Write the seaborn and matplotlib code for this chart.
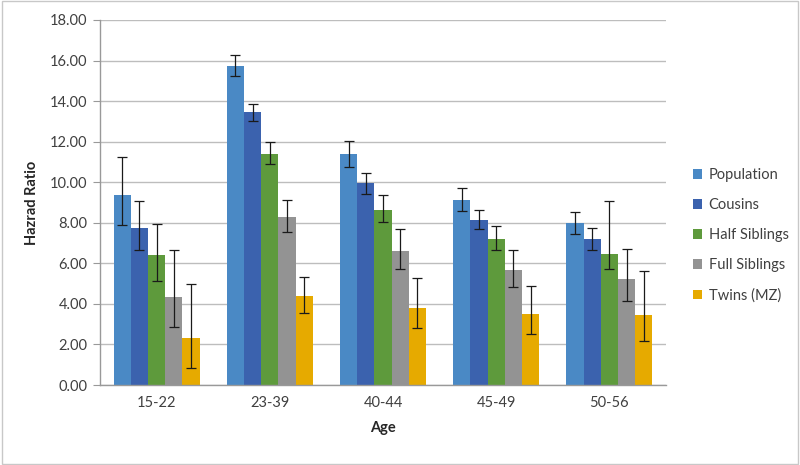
import numpy as np
import pandas as pd
import matplotlib
matplotlib.use("Agg")
import matplotlib.pyplot as plt
import seaborn as sns
from matplotlib.ticker import FixedLocator, FormatStrFormatter

ages = ["15-22", "23-39", "40-44", "45-49", "50-56"]
groups = ["Population", "Cousins", "Half Siblings", "Full Siblings", "Twins (MZ)"]

# hazard ratio per group, one value per age band
population = [9.37, 15.75, 11.37, 9.14, 7.97]
cousins = [7.76, 13.44, 9.96, 8.12, 7.20]
half_sibs = [6.39, 11.41, 8.65, 7.20, 6.48]
full_sibs = [4.36, 8.28, 6.62, 5.65, 5.24]
twins = [2.30, 4.37, 3.81, 3.52, 3.47]

# confidence interval bounds
population_lo = [7.87, 15.24, 10.75, 8.60, 7.46]
population_hi = [11.23, 16.29, 12.05, 9.73, 8.53]
cousins_lo = [6.67, 13.02, 9.42, 7.68, 6.66]
cousins_hi = [9.06, 13.87, 10.47, 8.61, 7.76]
half_lo = [5.14, 10.90, 8.02, 6.66, 5.72]
half_hi = [7.92, 12.00, 9.37, 7.83, 9.06]
full_lo = [2.84, 7.54, 5.72, 4.83, 4.14]
full_hi = [6.67, 9.12, 7.71, 6.67, 6.70]
twins_lo = [0.82, 3.57, 2.81, 2.53, 2.17]
twins_hi = [4.96, 5.33, 5.28, 4.88, 5.64]

colors = ["#4A89C5", "#3B62AE", "#5E9A3C", "#939393", "#E6AA00"]

values = [population, cousins, half_sibs, full_sibs, twins]
lows = [population_lo, cousins_lo, half_lo, full_lo, twins_lo]
highs = [population_hi, cousins_hi, half_hi, full_hi, twins_hi]

df = pd.DataFrame({
    "Age": np.tile(ages, len(groups)),
    "Group": np.repeat(groups, len(ages)),
    "HR": np.concatenate(values),
    "lo": np.concatenate(lows),
    "hi": np.concatenate(highs),
})

sns.set_style("white")
plt.rcParams["font.family"] = ["Lato", "DejaVu Sans"]

fig = plt.figure(figsize=(8, 4.65), dpi=100)
ax = fig.add_axes([0.125, 0.172, 0.7075, 0.785])

sns.barplot(data=df, x="Age", y="HR", hue="Group", order=ages, hue_order=groups,
            palette=colors, errorbar=None, width=0.76, saturation=1, ax=ax,
            linewidth=0)

# asymmetric error bars on each bar
for container, g in zip(ax.containers, groups):
    sub = df[df["Group"] == g].set_index("Age").loc[ages]
    xs = [p.get_x() + p.get_width() / 2 for p in container.patches]
    yerr = [sub["HR"] - sub["lo"], sub["hi"] - sub["HR"]]
    ax.errorbar(xs, sub["HR"], yerr=yerr, fmt="none", ecolor="#1a1a1a",
                elinewidth=0.9, capsize=3.5, capthick=0.9, zorder=3)

ax.set_ylim(0, 18)
ax.set_xlim(-0.5, len(ages) - 0.5)
ax.yaxis.set_major_locator(FixedLocator(np.arange(0, 19, 2)))
ax.yaxis.set_major_formatter(FormatStrFormatter("%.2f"))
ax.yaxis.grid(True, color="#BDBDBD", linewidth=1)
ax.set_axisbelow(True)

ax.xaxis.set_minor_locator(FixedLocator(np.arange(-0.5, len(ages), 1)))
ax.tick_params(axis="x", which="major", length=0, pad=8, labelsize=10.5, colors="#404040")
ax.tick_params(axis="x", which="minor", length=5, color="#999999", direction="out")
ax.tick_params(axis="y", length=5, color="#999999", direction="out", pad=4,
               labelsize=10.5, labelcolor="#404040", left=True)

for s in ["top", "right"]:
    ax.spines[s].set_visible(False)
for s in ["left", "bottom"]:
    ax.spines[s].set_color("#999999")
    ax.spines[s].set_linewidth(1)

ax.set_xlabel("Age", fontweight="bold", fontsize=10.5, labelpad=8)
ax.set_ylabel("Hazrad Ratio", fontweight="bold", fontsize=10.5, labelpad=8)

leg = ax.legend(loc="center left", bbox_to_anchor=(1.025, 0.41), frameon=False,
                fontsize=10.5, handlelength=0.6, handleheight=0.6,
                labelspacing=1.1, handletextpad=0.45)
for t in leg.get_texts():
    t.set_color("#404040")

# light frame around the whole chart
fig.patches.append(plt.Rectangle((0.002, 0.003), 0.996, 0.994, transform=fig.transFigure,
                                 fill=False, edgecolor="#C8C8C8", linewidth=1))

fig.savefig("out.png", dpi=100)
